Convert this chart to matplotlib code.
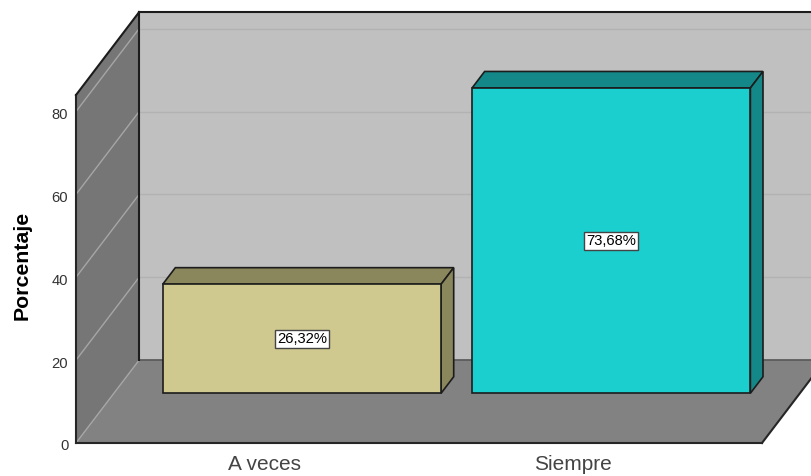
#!/usr/bin/env python
# -*- coding: utf-8 -*-
import matplotlib
matplotlib.use('Agg')
import matplotlib.pyplot as plt
from matplotlib.patches import Polygon
from matplotlib.transforms import ScaledTranslation

categories = ['A veces', 'Siempre']
percentages = [26.32, 73.68]
value_labels = ['26,32%', '73,68%']
y_ticks = [0, 20, 40, 60, 80]
front_colors = ['#cfc98f', '#1ccfcf']
dark_colors = ['#8b875c', '#148888']

plt.rcParams['font.family'] = ['Liberation Sans', 'DejaVu Sans']

# Axis limits, the front plane of the 3D box
X_MIN, X_MAX = -0.608, 1.61
Y_MAX = 84.0
# How far a point moves on screen when it goes to the back of the box
DEPTH_X = 0.204
DEPTH_Y = 20.0
BAR_WIDTH = 0.9
BAR_DEPTH = (0.6, 0.8)
EDGE = '#1c1c1c'


def project(x, y, depth):
    # Shear a point (x, y, depth) on to the plane of the axes.
    return (x + DEPTH_X * depth, y + DEPTH_Y * depth)


def face(ax, points, color, edge='none', lw=1.2, zorder=1):
    ax.add_patch(Polygon([project(*p) for p in points], closed=True,
                         facecolor=color, edgecolor=edge, linewidth=lw,
                         joinstyle='miter', clip_on=False, zorder=zorder))


def line(ax, start, end, color, lw=1.0, zorder=2):
    p0, p1 = project(*start), project(*end)
    ax.plot([p0[0], p1[0]], [p0[1], p1[1]], color=color, linewidth=lw,
            clip_on=False, zorder=zorder, solid_capstyle='projecting')


fig = plt.figure(figsize=(8.12, 4.76), dpi=100)
ax = fig.add_axes([76 / 812, 33 / 476, 686 / 812, 348 / 476])
ax.set_xlim(X_MIN, X_MAX)
ax.set_ylim(0, Y_MAX)

# Walls and floor. The box runs past the right edge of the picture.
face(ax, [(X_MIN, 0, 1), (X_MAX, 0, 1), (X_MAX, Y_MAX, 1), (X_MIN, Y_MAX, 1)],
     '#c0c0c0')
face(ax, [(X_MIN, 0, 0), (X_MIN, 0, 1), (X_MIN, Y_MAX, 1), (X_MIN, Y_MAX, 0)],
     '#767676')
face(ax, [(X_MIN, 0, 0), (X_MAX, 0, 0), (X_MAX, 0, 1), (X_MIN, 0, 1)],
     '#828282')

# Grid lines on the walls
for tick in y_ticks:
    if tick > 0:
        line(ax, (X_MIN, tick, 1), (X_MAX, tick, 1), '#b2b2b2', lw=1.0)
    line(ax, (X_MIN, tick, 0), (X_MIN, tick, 1), '#a6a6a6', lw=1.0)

# Outline of the box
line(ax, (X_MIN, 0, 1), (X_MAX, 0, 1), '#555555', lw=1.2, zorder=2.1)
line(ax, (X_MIN, 0, 0), (X_MAX, 0, 0), '#262626', lw=1.5, zorder=2.2)
line(ax, (X_MAX, 0, 0), (X_MAX, 0, 1), '#262626', lw=1.5, zorder=2.2)
line(ax, (X_MIN, 0, 0), (X_MIN, Y_MAX, 0), '#262626', lw=1.5, zorder=2.2)
line(ax, (X_MIN, 0, 1), (X_MIN, Y_MAX, 1), '#1c1c1c', lw=1.5, zorder=2.2)
line(ax, (X_MIN, Y_MAX, 0), (X_MIN, Y_MAX, 1), '#1c1c1c', lw=1.5, zorder=2.2)
line(ax, (X_MIN, Y_MAX, 1), (X_MAX, Y_MAX, 1), '#1c1c1c', lw=1.5, zorder=2.2)

# Bars
for i, value in enumerate(percentages):
    left = i - BAR_WIDTH / 2
    right = i + BAR_WIDTH / 2
    d0, d1 = BAR_DEPTH
    face(ax, [(left, value, d0), (right, value, d0),
              (right, value, d1), (left, value, d1)], dark_colors[i],
         edge=EDGE, zorder=3)
    face(ax, [(right, 0, d0), (right, 0, d1),
              (right, value, d1), (right, value, d0)], dark_colors[i],
         edge=EDGE, zorder=3)
    face(ax, [(left, 0, d0), (right, 0, d0),
              (right, value, d0), (left, value, d0)], front_colors[i],
         edge=EDGE, zorder=4)
    px, py = project(i, value / 2, d0)
    ax.text(px, py, value_labels[i], ha='center', va='center', fontsize=10.6,
            color='black', zorder=5,
            bbox=dict(boxstyle='square,pad=0.14', facecolor='white',
                      edgecolor='#444444', linewidth=1.0))

ax.set_xticks([0, 1])
ax.set_xticklabels(categories, fontsize=15, color='#444444')
ax.set_yticks(y_ticks)
ax.set_yticklabels([str(t) for t in y_ticks], fontsize=10.6, color='#333333')
ax.tick_params(axis='x', length=0, pad=9)
ax.tick_params(axis='y', length=0, pad=5.5)
# The reference has its y tick labels a little below the grid lines
for label in ax.get_yticklabels():
    label.set_transform(label.get_transform()
                        + ScaledTranslation(0, -2 / 100, fig.dpi_scale_trans))
ax.set_ylabel('Porcentaje', fontsize=15.3, fontweight='bold', color='black',
              va='center')
ax.yaxis.set_label_coords(-0.079, 0.51)
for spine in ax.spines.values():
    spine.set_visible(False)
ax.patch.set_visible(False)

fig.savefig('out.png', dpi=100)
